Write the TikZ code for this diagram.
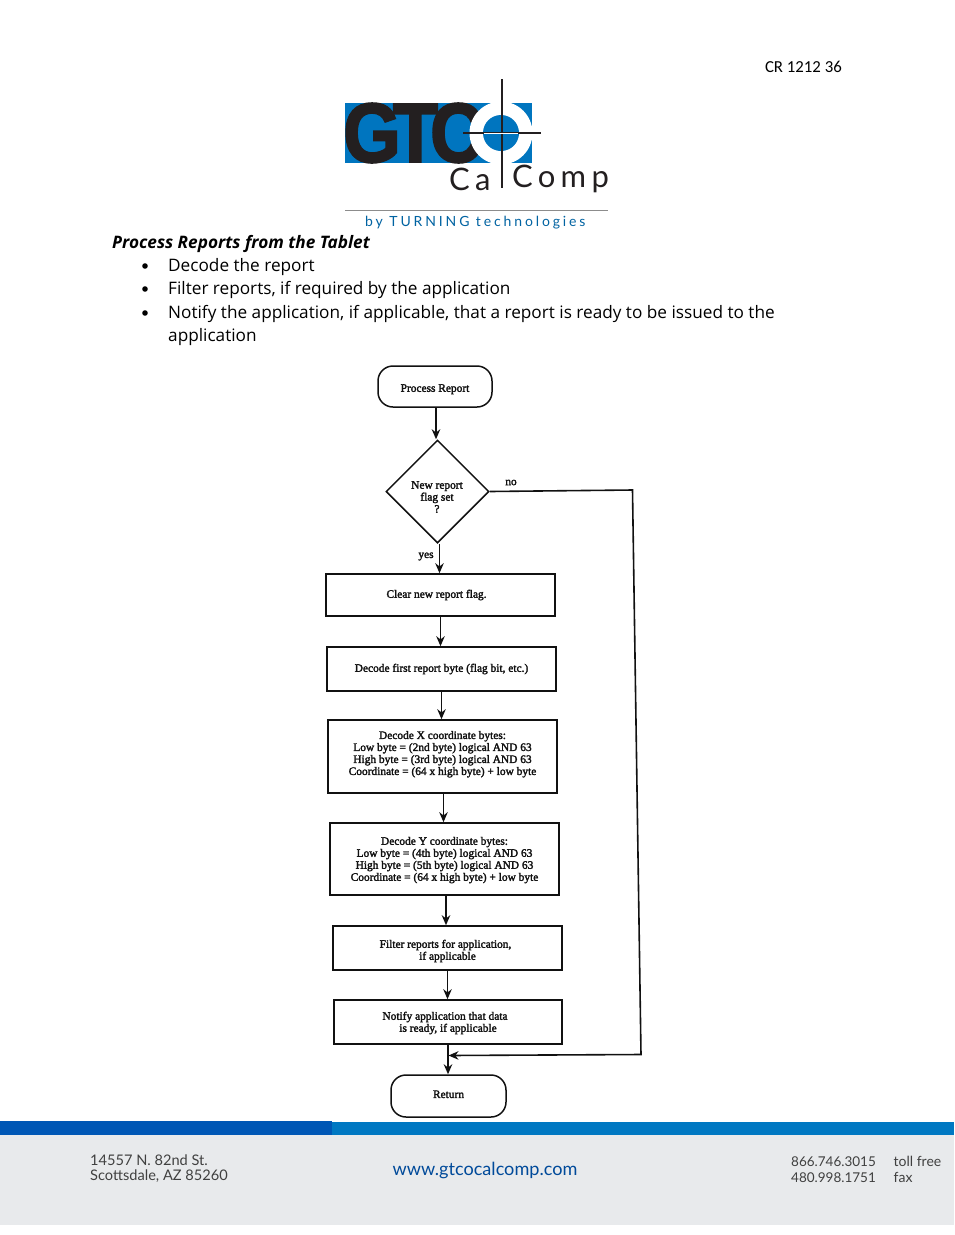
\documentclass[tikz,border=0pt]{standalone}
\usepackage{fontspec}
\usetikzlibrary{shapes.geometric,arrows.meta}
\setmainfont{Open Sans}
\newfontfamily\scanfont[FakeBold=2.2]{Liberation Serif}
\newfontfamily\crfont{Carlito}
\newfontfamily\footfont{Lato}
\newfontfamily\logofont[LetterSpace=17]{Lato}
\newfontfamily\byfont[LetterSpace=20.5]{Lato}
\newfontfamily\gtcfont[FakeBold=2.5]{Liberation Sans}
\newcommand\tdown[1]{\rule{0pt}{#1pt}}
\newcommand\tup[1]{\rule[-#1pt]{0pt}{0pt}}
\newcommand\tleft[1]{\rule{#1pt}{0pt}}
\definecolor{logoblue}{HTML}{0075BF}
\definecolor{logoblack}{HTML}{231F20}
\definecolor{barblue}{HTML}{0057B5}
\definecolor{barlight}{HTML}{0078C2}
\definecolor{footgray}{HTML}{E8EAEC}
\definecolor{flowink}{HTML}{111111}
\tikzset{
  x=1pt,y=-1pt,
  body/.style={inner sep=0,anchor=west,font=\fontsize{17.2}{20}\selectfont,text=black},
  flowtxt/.style={font=\scanfont\fontsize{11.4}{12}\selectfont,align=center,inner sep=0,text=flowink},
  procbox/.style={draw=flowink,line width=1.6pt,inner sep=0,minimum height=#1,flowtxt},
  procbox/.default=44pt,
  termbox/.style={draw=flowink,line width=1.5pt,rounded corners=15pt,minimum width=114pt,minimum height=41pt,inner sep=0,flowtxt},
  decbox/.style={draw=flowink,line width=1.5pt,shape=diamond,aspect=1,minimum width=103pt,minimum height=103pt,inner sep=0},
  flow/.style={draw=flowink,line width=1.6pt,-{Stealth[length=10pt,width=8.5pt]}},
  footer/.style={font=\footfont\fontsize{14.6}{15}\selectfont,inner sep=0,anchor=west,text=black!75,align=left},
}
\begin{document}
\begin{tikzpicture}
\useasboundingbox (0,0) rectangle (954,1235);
\fill[white] (0,0) rectangle (954,1235);
% header
\node[inner sep=0,anchor=east,font=\crfont\fontsize{16.8}{18}\selectfont] (cr) at (842,67) {CR 1212 36};
% logo
\fill[logoblue] (345,103) rectangle (532,163);
\node[inner sep=0,anchor=west,text=logoblack] (gtc) at (343,133) {\scalebox{1.232}[1.4]{\gtcfont\bfseries\fontsize{60}{60}\selectfont G\kern-6.4pt T\kern-6.4pt C}};
\fill[white] (501,133) circle[radius=31.5];
\fill[logoblue] (501,133) circle[radius=18];
\draw[logoblack,line width=1.3pt] (502,79) -- (502,188);
\draw[logoblack,line width=1.3pt] (463,133) -- (541,133);
\draw[white,line width=1pt] (484,133) -- (518,133);
\node[inner sep=0,anchor=west,text=logoblack,font=\logofont\fontsize{31}{31}\selectfont] (ca) at (449,179) {Ca};
\node[inner sep=0,anchor=west,text=logoblack,font=\logofont\fontsize{31}{31}\selectfont] (comp) at (512,179) {Comp};
\draw[black!45,line width=1pt] (345,210) -- (608,210);
\node[inner sep=0,anchor=west,text=logoblue!85!black,font=\byfont\fontsize{14}{14}\selectfont] (by) at (365,223) {by TURNING technologies};
% body text
\node[body,font=\bfseries\itshape\fontsize{17.2}{20}\selectfont] (title) at (112,244) {Process Reports from the Tablet};
\foreach \n/\y in {a/266,b/289,c/313}{\fill (145,\y) circle[radius=2.8];}
\node[body] (b1) at (168,267) {Decode the report};
\node[body] (b2) at (168,290) {Filter reports, if required by the application};
\node[body] (b3) at (168,314) {Notify the application, if applicable, that a report is ready to be issued to the};
\node[body] (b4) at (168,337) {application};
% flowchart
\node[termbox] (start) at (435,386.5) {\tdown{13}Process Report};
\node[decbox] (dec) at (437.5,491.5) {};
\node[flowtxt] (dectxt) at (437,497) {New report\\flag set\\?};
\node[procbox=42pt,minimum width=229pt] (clear) at (440.5,595) {Clear new report flag.\tleft{8}};
\node[procbox=44pt,minimum width=229pt] (first) at (441.5,669) {Decode first report byte (flag bit, etc.)};
\node[procbox=73pt,minimum width=229pt] (xc) at (442.5,756.5) {Decode X coordinate bytes:\\Low byte = (2nd byte) logical AND 63\\High byte = (3rd byte) logical AND 63\\Coordinate = (64 x high byte) + low byte\tup{7}};
\node[procbox=72pt,minimum width=229pt] (yc) at (444.5,859) {\tdown{10}Decode Y coordinate bytes:\\Low byte = (4th byte) logical AND 63\\High byte = (5th byte) logical AND 63\\Coordinate = (64 x high byte) + low byte};
\node[procbox=44pt,minimum width=229pt] (filter) at (447.5,948) {\tdown{14}Filter reports for application,\tleft{4}\\if applicable};
\node[procbox=44pt,minimum width=228pt] (notify) at (448,1022) {\tdown{10}Notify application that data\tleft{6}\\is ready, if applicable};
\node[termbox,minimum width=115pt,minimum height=42pt] (ret) at (448.5,1096) {\tleft{0}Return\tup{3.5}};
\coordinate (j) at (448.5,1055.5);
\coordinate (c1) at (632.5,490);
\coordinate (c2) at (641,1054.5);
\draw[flow] ([xshift=1pt]start.south) -- ([xshift=1pt]start.south |- dec.north);
\draw[flow] ([xshift=2pt]dec.south) -- ([xshift=2pt]dec.south |- clear.north);
\draw[flow] (clear.south) -- (clear.south |- first.north);
\draw[flow] (first.south) -- (first.south |- xc.north);
\draw[flow] ([xshift=1pt]xc.south) -- ([xshift=1pt]xc.south |- yc.north);
\draw[flow] ([xshift=1.5pt]yc.south) -- ([xshift=1.5pt]yc.south |- filter.north);
\draw[flow] (filter.south) -- (filter.south |- notify.north);
\draw[flow] (notify.south) -- (notify.south |- ret.north);
\draw[flow] (dec.east) -- (c1) -- (c2) -- (j);
\node[flowtxt] (no) at (511,482.5) {no};
\node[flowtxt] (yes) at (426,556.5) {yes};
% footer
\fill[footgray] (0,1134) rectangle (954,1225);
\fill[barblue] (0,1121) rectangle (332,1134.5);
\fill[barlight] (332,1122) rectangle (954,1134.5);
\node[footer] (addr) at (90,1168.5) {14557 N. 82nd St.\\Scottsdale, AZ 85260};
\node[footer,anchor=center,font=\footfont\fontsize{18.1}{20}\selectfont,text=barblue!85!black] (web) at (485,1170) {www.gtcocalcomp.com};
\node[footer,font=\footfont\fontsize{13.5}{16}\selectfont] (tel) at (791,1169.5) {866.746.3015\\480.998.1751};
\node[footer,font=\footfont\fontsize{14}{16}\selectfont] (tel2) at (893.5,1169.5) {toll free\\fax};
\end{tikzpicture}
\end{document}
